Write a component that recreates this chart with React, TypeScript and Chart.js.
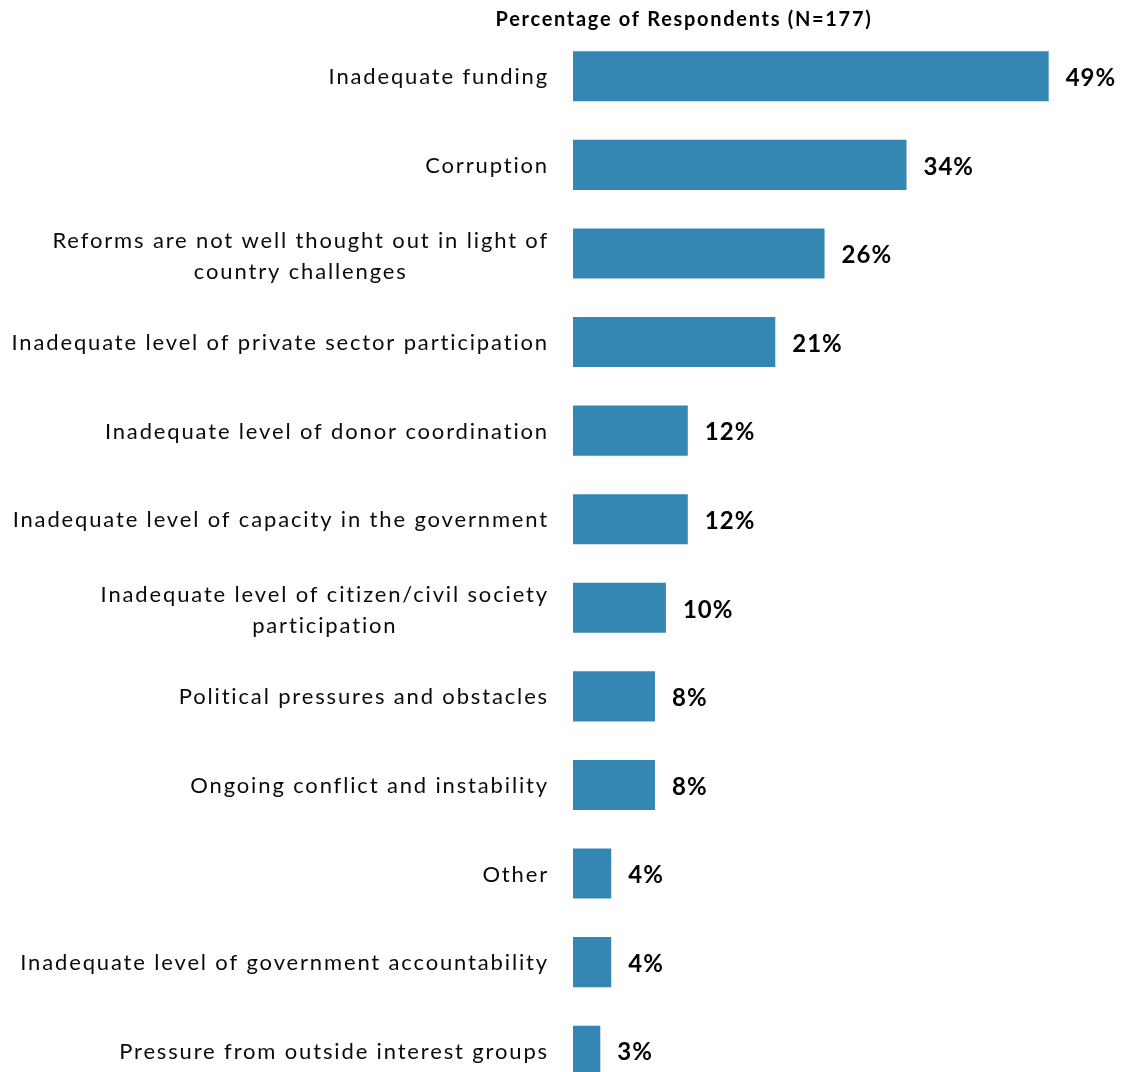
import React, { useEffect, useRef } from "react";
import { Chart, registerables } from "chart.js";

Chart.register(...registerables);

const categories: (string | string[])[] = [
  "Inadequate funding",
  "Corruption",
  ["Reforms are not well thought out in light of", "country challenges"],
  "Inadequate level of private sector participation",
  "Inadequate level of donor coordination",
  "Inadequate level of capacity in the government",
  ["Inadequate level of citizen/civil society", "participation"],
  "Political pressures and obstacles",
  "Ongoing conflict and instability",
  "Other",
  "Inadequate level of government accountability",
  "Pressure from outside interest groups",
];

const percentages: number[] = [49.15, 34.46, 25.99, 20.9, 11.86, 11.86, 9.6, 8.47, 8.47, 3.95, 3.95, 2.82];

const titleText = "Percentage of Respondents (N=177)";
const barColor = "#3487b2";
const LABEL_FONT = "22px Lato, 'Liberation Sans', sans-serif";
const VALUE_FONT = "bold 24px Lato, 'Liberation Sans', sans-serif";
const TITLE_FONT = "bold 20px Lato, 'Liberation Sans', sans-serif";

const overlayPlugin = {
  id: "overlay",
  afterDatasetsDraw(chart: any) {
    const ctx = chart.ctx as any;
    const yScale = chart.scales.y;
    const meta = chart.getDatasetMeta(0);
    ctx.save();
    // title
    ctx.font = TITLE_FONT;
    ctx.letterSpacing = "1.7px";
    ctx.fillStyle = "#000";
    ctx.textAlign = "center";
    ctx.textBaseline = "middle";
    ctx.fillText(titleText, 684, 20);
    // category labels
    ctx.font = LABEL_FONT;
    ctx.letterSpacing = "1.85px";
    ctx.fillStyle = "#0a0a0a";
    const rightEdge = chart.chartArea.left - 24;
    const lineH = 31;
    categories.forEach((lab, i) => {
      const lines = Array.isArray(lab) ? lab : [lab];
      const y = yScale.getPixelForValue(i) + 1;
      const maxW = Math.max(...lines.map((l: string) => ctx.measureText(l).width));
      const cx = rightEdge - maxW / 2;
      ctx.textAlign = "center";
      lines.forEach((l: string, j: number) => {
        const ly = y + (j - (lines.length - 1) / 2) * lineH + (lines.length > 1 ? 2 : 0);
        ctx.fillText(l, cx, ly);
      });
    });
    // value labels
    ctx.font = VALUE_FONT;
    ctx.letterSpacing = "1px";
    ctx.fillStyle = "#000";
    ctx.textAlign = "left";
    meta.data.forEach((bar: any, i: number) => {
      ctx.fillText(Math.round(percentages[i]) + "%", bar.x + 17, bar.y + 2);
    });
    ctx.restore();
  },
};

export default function App() {
  const ref = useRef<HTMLCanvasElement>(null);
  useEffect(() => {
    if (!ref.current) return;
    const chart = new Chart(ref.current, {
      type: "bar",
      data: {
        labels: categories as any,
        datasets: [
          {
            data: percentages,
            backgroundColor: barColor,
            borderWidth: 0,
            barPercentage: 0.565,
            categoryPercentage: 1,
          },
        ],
      },
      options: {
        indexAxis: "y",
        responsive: false,
        animation: false,
        devicePixelRatio: 1,
        layout: { padding: { left: 573, right: 7, top: 32, bottom: 0 } },
        plugins: { legend: { display: false }, tooltip: { enabled: false }, title: { display: false } },
        scales: {
          x: { display: false, min: 0, max: 56 },
          y: { display: false },
        },
      },
      plugins: [overlayPlugin],
    });
    return () => chart.destroy();
  }, []);
  return (
    <div style={{ position: "fixed", top: 0, left: 0, width: 1122, height: 1072, overflow: "hidden", background: "#fff" }}>
      <canvas ref={ref} width={1122} height={1095} style={{ display: "block", width: 1122, height: 1095 }} />
    </div>
  );
}
